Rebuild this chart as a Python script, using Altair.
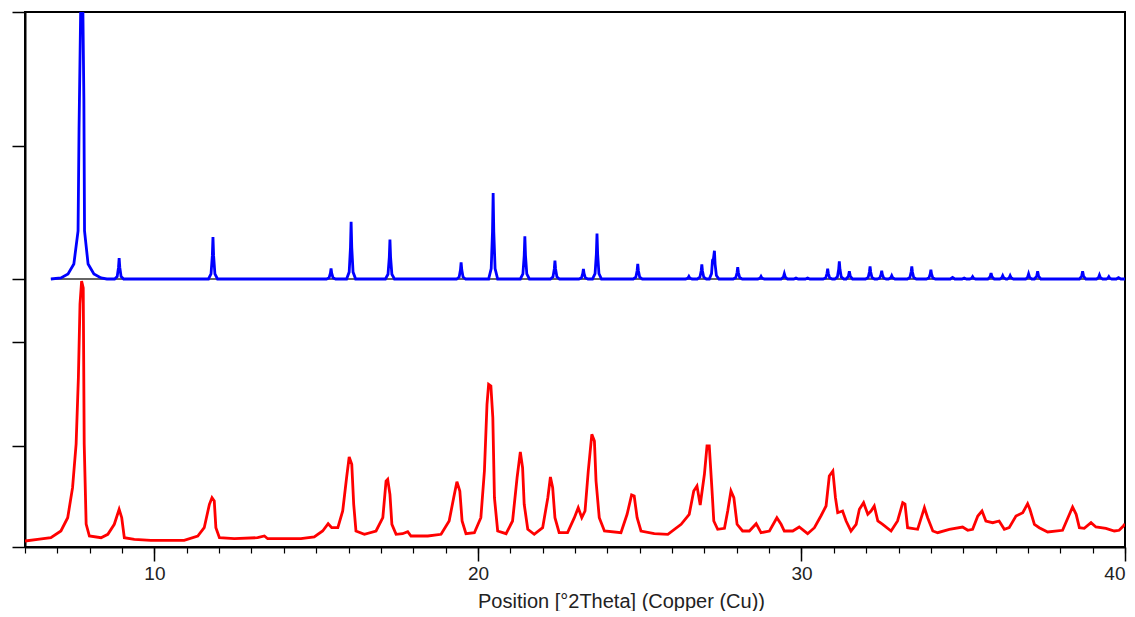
import altair as alt
import pandas as pd

# ---------------- data ----------------
# Lower pattern (red, measured), position in deg 2Theta and intensity (counts)
red_2theta = [
    6.00, 6.39, 6.80, 7.11, 7.32, 7.47, 7.58, 7.65, 7.70, 7.75,
    7.80, 7.83, 7.89, 7.99, 8.35, 8.56, 8.76, 8.91, 8.99, 9.07,
    9.38, 9.89, 10.41, 10.92, 11.34, 11.54, 11.70, 11.78, 11.85, 11.90,
    12.01, 12.47, 13.19, 13.40, 13.50, 14.32,
    14.53, 14.94, 15.20, 15.37, 15.48, 15.67, 15.82, 15.94, 16.02, 16.10,
    16.16, 16.23, 16.49, 16.85, 17.06, 17.16, 17.21, 17.28, 17.34, 17.47,
    17.67, 17.83, 17.93, 18.45, 18.86, 19.11, 19.25, 19.35, 19.44, 19.51,
    19.63, 19.89, 20.09, 20.20, 20.28, 20.33, 20.40, 20.46, 20.51, 20.61,
    20.87, 21.07, 21.21, 21.31, 21.38, 21.43, 21.54, 21.74, 22.00, 22.16,
    22.24, 22.31, 22.38, 22.51, 22.77, 22.98, 23.10, 23.21, 23.31, 23.41,
    23.52, 23.60, 23.65, 23.75, 23.91, 24.42, 24.61, 24.75, 24.83, 24.92,
    25.04, 25.45, 25.87, 26.28, 26.53, 26.67, 26.77, 26.87,
    27.00, 27.08, 27.15, 27.23, 27.29, 27.41, 27.62, 27.72, 27.82, 27.91,
    28.01, 28.18, 28.39, 28.60, 28.75, 29.01, 29.24, 29.37, 29.47, 29.73,
    29.93, 30.19, 30.40, 30.60, 30.76, 30.86, 30.97, 31.05, 31.12, 31.27,
    31.38, 31.53, 31.69, 31.79, 31.92, 32.05, 32.15, 32.25, 32.36, 32.51,
    32.77, 32.97, 33.13, 33.20, 33.28, 33.59, 33.80, 33.90, 34.06, 34.21,
    34.57, 34.98, 35.14, 35.29, 35.45, 35.58, 35.70, 35.91, 36.11, 36.27,
    36.42, 36.63, 36.84, 36.99, 37.06, 37.20, 37.35, 37.61, 38.07, 38.26,
    38.38, 38.49, 38.59, 38.74, 38.95, 39.10, 39.41, 39.67, 39.82, 39.95,
    40.00,
]
red_counts = [
    60, 77, 93, 160, 293, 593, 1030, 1693, 2430, 2660,
    2590, 1030, 230, 110, 93, 127, 227, 377, 293, 93,
    77, 67, 67, 67, 110, 193, 427, 493, 460, 193,
    93, 83, 93, 110, 83, 83,
    83, 100, 160, 233, 193, 193, 360, 693, 900, 827,
    427, 160, 127, 160, 293, 660, 677, 527, 227, 127,
    133, 153, 110, 110, 127, 260, 493, 653, 560, 260,
    133, 143, 293, 760, 1427, 1627, 1610, 1293, 493, 160,
    133, 260, 693, 950, 793, 427, 177, 127, 193, 493,
    700, 593, 293, 143, 143, 293, 393, 293, 360, 760,
    1127, 1060, 660, 293, 160, 143, 327, 520, 510, 293,
    160, 133, 127, 227, 327, 560, 610, 420,
    727, 1010, 1010, 593, 260, 177, 187, 360, 560, 493,
    227, 160, 160, 233, 143, 160, 293, 227, 160, 160,
    200, 133, 193, 310, 410, 710, 760, 493, 343, 360,
    260, 160, 227, 377, 443, 327, 360, 410, 260, 227,
    160, 260, 443, 430, 193, 177, 393, 293, 160, 143,
    177, 200, 167, 177, 310, 360, 260, 243, 260, 177,
    193, 310, 343, 433, 377, 227, 193, 150, 167, 310,
    400, 327, 193, 187, 243, 200, 187, 160, 167, 210,
    230,
]

# Upper pattern (blue, calculated), position in deg 2Theta and intensity (counts)
blue_2theta = [
    6.80, 7.11, 7.33, 7.51, 7.64, 7.67, 7.72, 7.79, 7.82, 7.84, 7.95, 8.13, 8.35, 8.53,
    8.77, 8.85, 8.89, 8.91, 8.93, 8.97, 9.05,
    11.67, 11.75, 11.79, 11.81, 11.83, 11.87, 11.95,
    15.32, 15.40, 15.44, 15.46, 15.48, 15.52, 15.60,
    15.94, 16.02, 16.06, 16.08, 16.10, 16.14, 16.22,
    17.14, 17.22, 17.26, 17.28, 17.30, 17.34, 17.42,
    19.34, 19.42, 19.46, 19.48, 19.50, 19.54, 19.62,
    20.33, 20.41, 20.45, 20.47, 20.49, 20.53, 20.61,
    21.31, 21.39, 21.43, 21.45, 21.47, 21.51, 21.59,
    22.24, 22.32, 22.36, 22.38, 22.40, 22.44, 22.52,
    23.12, 23.20, 23.24, 23.26, 23.28, 23.32, 23.40,
    23.54, 23.62, 23.66, 23.68, 23.70, 23.74, 23.82,
    24.80, 24.88, 24.92, 24.94, 24.96, 25.00, 25.08,
    26.42, 26.49, 26.52, 26.55, 26.62,
    26.78, 26.86, 26.90, 26.92, 26.94, 26.98, 27.06,
    27.15, 27.22, 27.25, 27.28, 27.31, 27.33, 27.37, 27.45,
    27.89, 27.97, 28.01, 28.03, 28.05, 28.09, 28.17,
    28.65, 28.72, 28.75, 28.78, 28.85,
    29.37, 29.44, 29.47, 29.50, 29.57,
    29.76, 29.83, 29.90,
    30.12, 30.19, 30.26,
    30.67, 30.75, 30.79, 30.81, 30.83, 30.87, 30.95,
    31.03, 31.11, 31.15, 31.17, 31.19, 31.23, 31.31,
    31.38, 31.45, 31.48, 31.51, 31.58,
    31.98, 32.06, 32.10, 32.12, 32.14, 32.18, 32.26,
    32.34, 32.42, 32.46, 32.48, 32.50, 32.54, 32.62,
    32.69, 32.76, 32.79, 32.82, 32.89,
    33.27, 33.35, 33.39, 33.41, 33.43, 33.47, 33.55,
    33.86, 33.94, 33.98, 34.00, 34.02, 34.06, 34.14,
    34.60, 34.67, 34.74,
    34.96, 35.03, 35.10,
    35.20, 35.26, 35.29, 35.32, 35.38,
    35.76, 35.83, 35.86, 35.89, 35.96,
    36.13, 36.19, 36.22, 36.25, 36.32,
    36.36, 36.42, 36.45, 36.48, 36.55,
    36.93, 36.99, 37.02, 37.05, 37.12,
    37.20, 37.27, 37.30, 37.33, 37.40,
    38.59, 38.66, 38.69, 38.72, 38.79,
    39.12, 39.18, 39.21, 39.24, 39.31,
    39.42, 39.47, 39.50, 39.53, 39.59,
    39.73, 39.80, 39.87,
    40.00,
]
blue_counts = [
    0, 40, 187, 562, 1800, 5600, 10000, 10000, 6700, 1800, 560, 190, 40, 0,
    0, 94, 432, 786, 432, 94, 0,
    0, 189, 865, 1573, 865, 189, 0,
    0, 48, 220, 400, 220, 48, 0,
    0, 258, 1180, 2146, 1180, 258, 0,
    0, 177, 810, 1473, 810, 177, 0,
    0, 75, 343, 624, 343, 75, 0,
    0, 387, 1772, 3221, 1772, 387, 0,
    0, 192, 879, 1598, 879, 192, 0,
    0, 82, 378, 687, 378, 82, 0,
    0, 45, 206, 375, 206, 45, 0,
    0, 204, 934, 1698, 934, 204, 0,
    0, 67, 309, 562, 309, 67, 0,
    0, 35, 100, 35, 0,
    0, 66, 302, 550, 302, 66, 0,
    0, 200, 700, 760, 1060, 560, 130, 0,
    0, 53, 242, 440, 242, 53, 0,
    0, 35, 100, 35, 0,
    0, 70, 200, 70, 0,
    0, 40, 0,
    0, 40, 0,
    0, 46, 213, 387, 213, 46, 0,
    0, 79, 364, 662, 364, 79, 0,
    0, 100, 287, 100, 0,
    0, 57, 261, 474, 261, 57, 0,
    0, 37, 172, 312, 172, 37, 0,
    0, 44, 125, 44, 0,
    0, 57, 261, 474, 261, 57, 0,
    0, 42, 193, 350, 193, 42, 0,
    0, 60, 0,
    0, 40, 0,
    0, 30, 87, 30, 0,
    0, 79, 225, 79, 0,
    0, 44, 125, 44, 0,
    0, 44, 125, 44, 0,
    0, 65, 187, 65, 0,
    0, 100, 287, 100, 0,
    0, 100, 287, 100, 0,
    0, 52, 150, 52, 0,
    0, 30, 87, 30, 0,
    0, 50, 0,
    0,
]

x_major_ticks = [10, 20, 30, 40]
x_minor_ticks = list(range(6, 41))
red_y_ticks = [0, 1010, 2050]
blue_y_ticks = [0, 5000, 10000]

# stacking of the two patterns (offset and scale of the upper pattern)
UPPER_OFFSET = 2680
UPPER_SCALE = 0.267
Y_TOP = UPPER_OFFSET + 10000 * UPPER_SCALE

red_df = pd.DataFrame({"pos": red_2theta, "counts": red_counts})
blue_df = pd.DataFrame({"pos": blue_2theta, "counts": blue_counts})

FONT = "Liberation Sans, Arial, sans-serif"

xscale = alt.Scale(domain=[6, 40], nice=False, zero=False)
yscale = alt.Scale(domain=[0, Y_TOP], nice=False, zero=True)

y_tick_values = red_y_ticks + [UPPER_OFFSET + v * UPPER_SCALE for v in blue_y_ticks]
yaxis = alt.Axis(
    values=y_tick_values, labels=False, tickSize=13, tickWidth=1.5, tickColor="black",
    domainColor="black", domainWidth=2, grid=False, title=None,
)
major_x = alt.Axis(
    values=x_major_ticks, tickSize=14, tickWidth=1.5, tickColor="black",
    domainColor="black", domainWidth=2, grid=False, orient="bottom",
    labelFont=FONT, labelFontSize=19, labelColor="#222222", labelPadding=3,
    title="Position [°2Theta] (Copper (Cu))", titleFont=FONT, titleFontSize=20,
    titleFontWeight="normal", titleColor="#222222", titlePadding=8,
    titleX=596, titleAlign="center",
)
minor_x = alt.Axis(
    values=x_minor_ticks, tickSize=6, tickWidth=1.2, tickColor="black",
    labels=False, domain=False, grid=False, title=None, orient="bottom",
)

red_line = alt.Chart(red_df).mark_line(color="#ff0000", strokeWidth=2.8, clip=True).encode(
    x=alt.X("pos:Q", scale=xscale, axis=major_x),
    y=alt.Y("counts:Q", scale=yscale, axis=yaxis),
)

baseline = alt.Chart(blue_df).transform_aggregate(
    xmin="min(pos)", xmax="max(pos)"
).transform_calculate(yb=str(UPPER_OFFSET)).mark_rule(color="#333333", strokeWidth=1.5).encode(
    x=alt.X("xmin:Q", scale=xscale, axis=None),
    x2="xmax:Q",
    y=alt.Y("yb:Q", scale=yscale, axis=yaxis),
)

blue_line = alt.Chart(blue_df).transform_calculate(
    ypos=f"{UPPER_OFFSET} + datum.counts * {UPPER_SCALE}"
).mark_line(color="#0000ff", strokeWidth=2.8, clip=True).encode(
    x=alt.X("pos:Q", scale=xscale, axis=None),
    y=alt.Y("ypos:Q", scale=yscale, axis=yaxis),
)

minor = alt.Chart(red_df).mark_rule(strokeOpacity=0).encode(
    x=alt.X("pos:Q", scale=xscale, axis=minor_x),
)

chart = alt.layer(minor, red_line, baseline, blue_line).resolve_axis(
    x="independent"
).resolve_scale(x="shared", y="shared").properties(
    width=1100, height=535,
    padding={"left": 11, "top": 11, "right": 8, "bottom": 0},
    background="white",
).configure_view(stroke="black", strokeWidth=2)

chart.save("out.html", embed_options={"renderer": "svg", "actions": False})
